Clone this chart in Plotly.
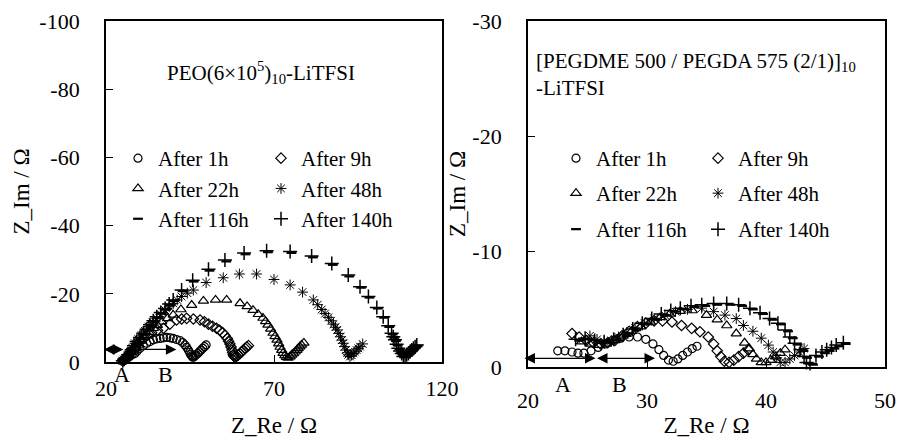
import plotly.graph_objects as go

# ---------------- data ----------------
SERIES_NAMES = ["After 1h", "After 9h", "After 22h", "After 48h", "After 116h", "After 140h"]

# Left panel: PEO(6x10^5)10-LiTFSI
L_1h_x = [24.8, 25.2, 25.5, 26.3, 27.0, 27.8, 28.6, 29.3, 30.1, 31.1, 32.1, 33.1, 34.1, 35.1, 36.1, 37.1, 38.1, 39.1, 40.0, 41.0, 42.0, 42.8, 43.5, 44.0, 44.5, 44.9, 45.2, 45.5, 45.8, 46.1, 46.5, 46.8, 47.3, 47.8, 48.3, 48.8, 49.3, 49.8]
L_1h_y = [-0.3, -0.5, -0.8, -1.2, -1.6, -2.1, -2.5, -3.2, -4.0, -4.8, -5.5, -6.0, -6.5, -6.8, -6.9, -7.1, -7.2, -7.1, -6.9, -6.6, -6.3, -5.7, -5.0, -4.3, -3.5, -2.8, -2.2, -1.8, -1.4, -1.5, -1.8, -2.1, -2.5, -3.0, -3.5, -4.0, -4.5, -5.0]

L_9h_x = [25.0, 25.4, 25.8, 26.6, 27.6, 28.3, 29.1, 30.1, 31.1, 32.3, 33.6, 35.3, 37.1, 39.0, 41.0, 42.5, 44.0, 46.0, 48.0, 49.3, 50.5, 51.7, 52.9, 53.8, 54.7, 55.4, 56.1, 56.5, 56.9, 57.2, 57.5, 57.7, 57.9, 58.1, 58.4, 58.9, 59.4, 59.9, 60.4, 60.9, 61.4, 61.9, 62.4]
L_9h_y = [-0.4, -0.7, -1.0, -1.8, -3.0, -4.0, -5.0, -6.0, -6.9, -7.8, -8.6, -9.3, -9.9, -11.1, -12.3, -12.6, -12.8, -12.6, -12.3, -11.8, -11.1, -10.5, -9.9, -9.3, -8.6, -7.8, -6.9, -6.1, -5.3, -4.4, -3.5, -2.8, -2.1, -1.7, -1.4, -1.7, -2.1, -2.5, -3.0, -3.5, -4.0, -4.4, -4.8]

L_22h_x = [25.1, 25.6, 26.0, 27.0, 28.1, 28.8, 29.6, 30.6, 31.6, 32.8, 34.1, 35.3, 36.6, 38.3, 40.0, 42.3, 45.5, 49.0, 52.6, 55.9, 59.9, 62.0, 63.75, 65.3, 66.7, 67.5, 68.2, 69.0, 69.7, 70.3, 70.9, 71.4, 71.8, 72.3, 72.7, 73.2, 73.7, 74.2, 74.8, 75.3, 75.8, 76.3, 76.8, 77.2, 77.7, 78.2, 78.9]
L_22h_y = [-0.4, -0.8, -1.2, -2.0, -3.0, -4.0, -5.0, -6.2, -7.4, -8.7, -9.9, -10.8, -11.8, -12.8, -13.8, -15.4, -16.7, -17.9, -18.2, -18.2, -17.2, -16.3, -15.2, -14.0, -12.9, -11.9, -10.9, -9.7, -8.5, -7.5, -6.5, -5.4, -4.4, -3.5, -2.6, -1.9, -1.4, -1.2, -1.6, -2.1, -2.5, -3.0, -3.5, -4.0, -4.5, -5.0, -5.6]

L_48h_x = [24.9, 25.3, 25.7, 26.4, 27.1, 27.8, 28.6, 29.6, 30.6, 31.6, 32.6, 33.8, 35.1, 36.3, 37.6, 38.8, 40.0, 41.2, 42.5, 44.2, 46.0, 49.8, 54.9, 59.7, 64.8, 70.0, 74.8, 78.5, 81.7, 83.0, 84.2, 85.2, 86.2, 87.0, 87.7, 88.3, 88.8, 89.3, 89.8, 90.2, 90.6, 91.0, 91.4, 91.8, 92.1, 92.6, 93.1, 93.6, 94.1, 94.6, 95.1, 95.6, 96.4]
L_48h_y = [-0.4, -0.8, -1.2, -2.0, -3.0, -4.2, -5.5, -6.7, -7.9, -9.1, -10.4, -11.6, -12.8, -14.0, -15.2, -16.2, -17.2, -18.2, -19.2, -20.2, -21.1, -23.3, -24.7, -25.8, -25.8, -24.2, -22.6, -20.5, -18.2, -16.8, -15.4, -14.2, -13.1, -12.1, -11.1, -10.2, -9.4, -8.4, -7.4, -6.4, -5.5, -4.5, -3.5, -2.7, -2.1, -1.6, -2.0, -2.5, -3.0, -3.5, -4.0, -4.5, -5.3]

L_116h_x = [25.3, 25.6, 26.0, 26.9, 27.9, 28.6, 29.4, 30.4, 31.4, 32.4, 33.4, 34.4, 35.4, 36.6, 37.9, 39.1, 40.3, 42.8, 46.1, 50.8, 55.8, 61.5, 68.2, 75.2, 81.6, 87.5, 92.4, 95.9, 98.4, 100.9, 102.8, 104.3, 105.3, 105.8, 106.3, 106.8, 107.3, 107.8, 108.3, 108.8, 109.3, 109.8, 110.3, 110.8, 111.3, 111.8, 112.3, 112.8]
L_116h_y = [-0.4, -0.7, -1.0, -1.9, -3.2, -4.5, -5.7, -6.9, -8.1, -9.3, -10.6, -11.8, -13.0, -14.2, -15.4, -16.7, -17.9, -20.8, -23.6, -26.8, -29.5, -31.6, -32.2, -32.0, -30.7, -28.5, -25.1, -21.8, -18.9, -15.7, -13.0, -10.3, -8.1, -7.1, -6.2, -4.9, -3.7, -2.9, -2.2, -1.4, -1.5, -1.9, -2.3, -2.8, -3.3, -3.8, -4.3, -4.8]

L_140h_x = [25.0, 25.4, 25.8, 26.6, 27.6, 28.3, 29.1, 30.1, 31.1, 32.1, 33.1, 34.1, 35.1, 36.3, 37.6, 38.8, 40.0, 42.5, 45.8, 50.5, 55.4, 61.1, 67.8, 74.8, 81.2, 87.2, 92.1, 95.6, 98.1, 100.6, 102.5, 104.0, 105.0, 105.5, 106.0, 106.5, 107.0, 107.5, 108.0, 108.5, 109.0, 109.5, 110.0, 110.5, 111.0, 111.5, 112.0, 112.5]
L_140h_y = [-0.4, -0.8, -1.2, -2.1, -3.5, -4.8, -6.0, -7.2, -8.4, -9.6, -10.9, -12.1, -13.3, -14.5, -15.7, -17.0, -18.2, -21.1, -24.0, -27.2, -29.9, -32.0, -32.6, -32.4, -31.1, -28.9, -25.5, -22.1, -19.2, -16.0, -13.3, -10.6, -8.4, -7.4, -6.5, -5.2, -4.0, -3.2, -2.5, -1.6, -1.7, -2.1, -2.5, -3.0, -3.5, -4.0, -4.5, -5.0]

# Right panel: [PEGDME 500 / PEGDA 575 (2/1)]10-LiTFSI
R_1h_x = [22.5, 23.1, 23.7, 24.2, 24.7, 25.3, 25.9, 26.5, 27.1, 27.8, 28.5, 29.2, 29.9, 30.5, 31.0, 31.4, 31.8, 32.2, 32.6, 33.0, 33.4, 33.8, 34.2]
R_1h_y = [-1.4, -1.4, -1.3, -1.2, -1.2, -1.4, -1.7, -2.0, -2.3, -2.5, -2.6, -2.6, -2.4, -2.0, -1.5, -1.0, -0.6, -0.5, -0.7, -1.0, -1.3, -1.6, -1.8]

R_9h_x = [23.7, 24.3, 24.9, 25.5, 26.1, 26.7, 27.3, 27.9, 28.5, 29.2, 29.9, 30.6, 31.3, 32.1, 32.9, 33.75, 34.45, 35.15, 35.6, 35.9, 36.2, 36.5, 36.9, 37.3, 37.7, 38.1, 38.5]
R_9h_y = [-2.9, -2.6, -2.3, -2.1, -2.0, -2.1, -2.3, -2.7, -3.1, -3.5, -3.8, -4.0, -4.0, -3.9, -3.6, -3.35, -3.06, -2.6, -2.0, -1.4, -0.9, -0.5, -0.4, -0.6, -0.9, -1.2, -1.5]

R_22h_x = [24.5, 25.2, 25.9, 26.6, 27.3, 28.0, 28.7, 29.5, 30.3, 31.1, 31.9, 32.8, 33.8, 35.0, 35.9, 36.7, 37.5, 38.2, 38.6, 38.9, 39.2, 39.6, 40.0, 40.4, 40.8, 41.2, 41.6]
R_22h_y = [-2.2, -2.0, -1.9, -2.0, -2.3, -2.7, -3.1, -3.5, -3.9, -4.3, -4.6, -4.85, -4.9, -4.5, -4.1, -3.6, -2.9, -2.1, -1.6, -1.1, -0.7, -0.4, -0.4, -0.6, -0.9, -1.2, -1.5]

R_48h_x = [25.2, 25.8, 26.4, 27.0, 27.6, 28.3, 29.0, 29.8, 30.6, 31.5, 32.4, 33.4, 34.6, 35.6, 36.55, 37.5, 38.1, 38.9, 39.6, 40.2, 40.6, 40.9, 41.2, 41.6, 42.0, 42.4, 42.8, 43.2]
R_48h_y = [-2.7, -2.4, -2.2, -2.3, -2.6, -3.0, -3.4, -3.8, -4.2, -4.5, -4.8, -5.0, -5.1, -4.8, -4.5, -4.2, -3.6, -3.1, -2.5, -1.9, -1.3, -0.8, -0.4, -0.4, -0.7, -1.0, -1.3, -1.6]

R_116h_x = [24.3, 25.1, 25.9, 26.7, 27.5, 28.3, 29.1, 29.9, 30.7, 31.5, 32.3, 33.1, 34.0, 34.9, 35.9, 37.0, 38.0, 38.9, 39.75, 40.55, 41.25, 41.85, 42.25, 42.65, 43.15, 43.45, 43.65, 43.95, 44.45, 44.95, 45.35, 45.75, 46.15, 46.7]
R_116h_y = [-2.3, -2.4, -2.2, -2.1, -2.3, -2.7, -3.2, -3.7, -4.1, -4.5, -4.8, -5.0, -5.2, -5.3, -5.4, -5.4, -5.3, -5.0, -4.6, -4.1, -3.7, -3.1, -2.5, -1.95, -1.4, -0.8, -0.3, -0.2, -0.9, -1.2, -1.4, -1.6, -1.8, -2.0]

R_140h_x = [24.0, 24.8, 25.6, 26.4, 27.2, 28.0, 28.8, 29.6, 30.4, 31.2, 32.0, 32.8, 33.7, 34.6, 35.6, 36.7, 37.7, 38.65, 39.5, 40.3, 41.0, 41.6, 42.0, 42.4, 42.9, 43.2, 43.4, 43.7, 44.2, 44.7, 45.1, 45.5, 45.9, 46.5]
R_140h_y = [-2.4, -2.5, -2.3, -2.2, -2.4, -2.8, -3.3, -3.8, -4.2, -4.6, -4.9, -5.1, -5.3, -5.4, -5.5, -5.5, -5.4, -5.1, -4.7, -4.2, -3.8, -3.2, -2.6, -2.05, -1.5, -0.9, -0.4, -0.3, -1.0, -1.3, -1.5, -1.7, -1.9, -2.1]

# Axis ticks
L_X_TICKS = [20, 70, 120]
L_Y_TICKS = [0, -20, -40, -60, -80, -100]
L_Y_LABELS = ["0", "-20", "-40", "-60", "-80", "-100"]
R_X_TICKS = [20, 30, 40, 50]
R_Y_TICKS = [0, -10, -20, -30]
R_Y_LABELS = ["0", "-10", "-20", "-30"]

# Resistance markers (A, B) : arrow end points on Z_Re, arrow level on Z_Im
L_ARROW_X = [19.4, 25.6, 41.4]
L_ARROW_Y = -3.7
R_ARROW_X = [19.7, 25.8, 30.8]
R_ARROW_Y = -0.75

# ---------------- styling ----------------
FONT = "Liberation Serif, Times New Roman, serif"
FS = 21       # legend / annotation text
FS_TICK = 22
FS_TITLE = 23
SYMBOLS = ["circle-open", "diamond-open", "triangle-up-open", "asterisk-open", "line-ew-open", "cross-thin-open"]
SIZES = [8, 8, 9, 9, 7, 10]
LWS = [1.2, 1.2, 1.2, 1.0, 2.2, 1.5]

left_data = [(L_1h_x, L_1h_y), (L_9h_x, L_9h_y), (L_22h_x, L_22h_y),
             (L_48h_x, L_48h_y), (L_116h_x, L_116h_y), (L_140h_x, L_140h_y)]
right_data = [(R_1h_x, R_1h_y), (R_9h_x, R_9h_y), (R_22h_x, R_22h_y),
              (R_48h_x, R_48h_y), (R_116h_x, R_116h_y), (R_140h_x, R_140h_y)]

fig = go.Figure()
col_of = [0, 1, 0, 1, 0, 1]
for i, (xs, ys) in enumerate(left_data):
    fig.add_trace(go.Scatter(
        x=xs, y=ys, mode="markers", name=SERIES_NAMES[i],
        xaxis="x", yaxis="y", cliponaxis=False,
        legend="legend" if col_of[i] == 0 else "legend2",
        marker=dict(symbol=SYMBOLS[i], size=SIZES[i], color="black",
                    line=dict(color="black", width=LWS[i]))))
for i, (xs, ys) in enumerate(right_data):
    fig.add_trace(go.Scatter(
        x=xs, y=ys, mode="markers", name=SERIES_NAMES[i],
        xaxis="x2", yaxis="y2", cliponaxis=False,
        legend="legend%d" % (3 + i),
        marker=dict(symbol=SYMBOLS[i], size=SIZES[i], color="black",
                    line=dict(color="black", width=LWS[i]))))

W, H = 897, 438
ML, MR, MT, MB = 106, 12, 21, 71
PW, PH = W - ML - MR, H - MT - MB


def px2x(px):
    return (px - ML) / PW


def px2y(py):
    return (H - MB - py) / PH


axis_common = dict(showline=True, linecolor="black", linewidth=1.8, mirror=True,
                   ticks="inside", ticklen=7, tickwidth=1.3, tickcolor="black",
                   showgrid=False, zeroline=False, automargin=False,
                   tickfont=dict(family=FONT, size=FS_TICK, color="black"))
title_font = dict(family=FONT, size=FS_TITLE, color="black")

fig.update_layout(
    width=W, height=H, margin=dict(l=ML, r=MR, t=MT, b=MB, autoexpand=False),
    paper_bgcolor="white", plot_bgcolor="white",
    font=dict(family=FONT, size=FS, color="black"),
    xaxis=dict(domain=[0, px2x(442)], range=[20, 120], tickvals=L_X_TICKS,
               ticklabelstandoff=6,
               title=dict(text="Z_Re / Ω", font=title_font, standoff=21),
               anchor="y", **axis_common),
    yaxis=dict(domain=[px2y(362), 1], range=[0, -100], tickvals=L_Y_TICKS, ticktext=L_Y_LABELS,
               ticklabelstandoff=20,
               title=dict(text="Z_Im / Ω", font=title_font, standoff=3),
               anchor="x", **axis_common),
    xaxis2=dict(domain=[px2x(528), 1], range=[20, 50], tickvals=R_X_TICKS,
                ticklabelstandoff=13,
                title=dict(text="Z_Re / Ω", font=title_font, standoff=11),
                anchor="y2", **axis_common),
    yaxis2=dict(domain=[0, 1], range=[0, -30], tickvals=R_Y_TICKS, ticktext=R_Y_LABELS,
                ticklabelstandoff=20,
                title=dict(text="Z_Im / Ω", font=title_font, standoff=0),
                anchor="x2", **axis_common),
    showlegend=True,
)

leg_common = dict(bgcolor="rgba(0,0,0,0)", borderwidth=0, orientation="v",
                  font=dict(family=FONT, size=FS, color="black"),
                  xref="paper", yref="paper", xanchor="left", yanchor="top",
                  itemclick=False, itemdoubleclick=False)
legends = dict(
    legend=dict(x=px2x(118), y=px2y(138), **leg_common),
    legend2=dict(x=px2x(261), y=px2y(138), **leg_common),
)
# right panel: one legend per entry, laid out as 2 columns x 3 rows
R_ROWS = [138, 173, 209]
R_COLS = [556, 698]
for i in range(6):
    legends["legend%d" % (3 + i)] = dict(x=px2x(R_COLS[i % 2]), y=px2y(R_ROWS[i // 2]), **leg_common)
fig.update_layout(**legends)

ann = []
ann.append(dict(text="PEO(6×10<sup>5</sup>)<sub>10</sub>-LiTFSI", xref="paper", yref="paper",
                x=px2x(165), y=px2y(72), xanchor="left", yanchor="middle", showarrow=False,
                font=dict(family=FONT, size=FS, color="black")))
ann.append(dict(text="[PEGDME 500 / PEGDA 575 (2/1)]<sub>10</sub>", xref="paper", yref="paper",
                x=px2x(534), y=px2y(62), xanchor="left", yanchor="middle", showarrow=False,
                font=dict(family=FONT, size=FS, color="black")))
ann.append(dict(text="-LiTFSI", xref="paper", yref="paper",
                x=px2x(534), y=px2y(88), xanchor="left", yanchor="middle", showarrow=False,
                font=dict(family=FONT, size=FS, color="black")))

for (xr, yr, AX, AY) in [("x", "y", L_ARROW_X, L_ARROW_Y), ("x2", "y2", R_ARROW_X, R_ARROW_Y)]:
    for k in range(2):
        ann.append(dict(text="", x=AX[k], y=AY, ax=AX[k + 1], ay=AY,
                        xref=xr, yref=yr, axref=xr, ayref=yr, showarrow=True,
                        arrowhead=2, startarrowhead=2, arrowside="end+start",
                        arrowsize=1.5, startarrowsize=1.5, arrowwidth=1.4, arrowcolor="black"))

for (xr, yr, pos, yd) in [("x", "y domain", [24.8, 37.6], -0.038), ("x2", "y2 domain", [22.9, 27.7], -0.052)]:
    for lab, xv in zip(["A", "B"], pos):
        ann.append(dict(text=lab, x=xv, y=yd, xref=xr, yref=yr, showarrow=False,
                        xanchor="center", yanchor="middle",
                        font=dict(family=FONT, size=22, color="black")))

fig.update_layout(annotations=ann)

fig.write_html("out.html")
